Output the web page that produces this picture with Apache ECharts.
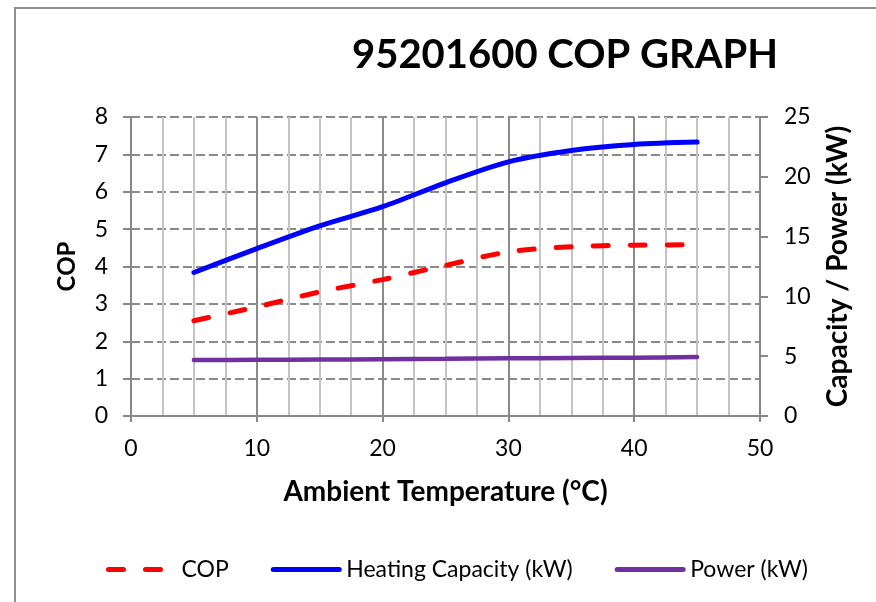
<!DOCTYPE html>
<html><head><meta charset="utf-8">
<script src="https://cdn.jsdelivr.net/npm/echarts@6/dist/echarts.min.js"></script>
<style>html,body{margin:0;padding:0;background:#fff}#c{width:876px;height:602px}</style>
</head><body><div id="c"></div>
<script>
const temps = [5, 10, 15, 20, 25, 30, 35, 40, 45];
const cop = [2.55, 2.92, 3.32, 3.65, 4.03, 4.39, 4.53, 4.57, 4.58];
const heatingCapacity = [12.0, 14.0, 15.9, 17.5, 19.5, 21.25, 22.2, 22.7, 22.9];
const power = [4.68, 4.7, 4.72, 4.75, 4.78, 4.82, 4.85, 4.88, 4.93];
const xTicks = [0, 10, 20, 30, 40, 50];
const copTicks = [0, 1, 2, 3, 4, 5, 6, 7, 8];
const kwTicks = [0, 5, 10, 15, 20, 25];

const F = 'Lato, "Open Sans", sans-serif';
const pair = (xs, ys) => xs.map((x, i) => [x, ys[i]]);
const chart = echarts.init(document.getElementById('c'));
chart.setOption({
  animation: false,
  textStyle: { fontFamily: F },
  title: { text: '95201600 COP GRAPH', left: 347, top: 30,
    textStyle: { fontFamily: F, fontSize: 40, fontWeight: 'bold', color: '#000' } },
  graphic: [{ type: 'rect', shape: { x: 15, y: 8, width: 1000, height: 800 },
    style: { fill: 'none', stroke: '#8f8f8f', lineWidth: 2 }, silent: true }],
  grid: { left: 131, right: 116, top: 117, bottom: 186 },
  legend: {
    left: 101, top: 553, itemWidth: 66, itemHeight: 10, itemGap: 42,
    itemStyle: { opacity: 0 },
    lineStyle: { width: 5, cap: 'round' },
    textStyle: { fontFamily: F, fontSize: 23, color: '#000', padding: [0, 0, 0, 2] },
    data: ['COP', 'Heating Capacity (kW)', 'Power (kW)']
  },
  xAxis: {
    type: 'value', min: xTicks[0], max: xTicks[xTicks.length - 1], interval: 10,
    name: 'Ambient Temperature (°C)', nameLocation: 'middle', nameGap: 62,
    nameTextStyle: { fontFamily: F, fontSize: 28, fontWeight: 'bold', color: '#000' },
    axisLine: { show: true, lineStyle: { color: '#888', width: 2 } },
    axisTick: { show: true, length: 6, lineStyle: { color: '#888', width: 2 } },
    axisLabel: { fontSize: 23, color: '#000', margin: 21, fontFamily: F },
    splitLine: { show: true, lineStyle: { color: '#8a8a8a', width: 2 } },
    minorSplitLine: { show: true, lineStyle: { color: '#c4c4c4', width: 2 } },
    minorTick: { show: false, splitNumber: 4 }
  },
  yAxis: [{
    type: 'value', min: copTicks[0], max: copTicks[copTicks.length - 1], interval: 1,
    name: 'COP', nameLocation: 'middle', nameGap: 52, nameRotate: 90,
    nameTextStyle: { fontFamily: F, fontSize: 24, fontWeight: 'bold', color: '#000' },
    axisLine: { show: true, lineStyle: { color: '#888', width: 2 } },
    axisTick: { show: true, length: 8, lineStyle: { color: '#888', width: 2 } },
    axisLabel: { fontSize: 23, color: '#000', margin: 23, fontFamily: F },
    splitLine: { show: true, lineStyle: { color: '#8a8a8a', width: 2, type: [9, 4] } }
  }, {
    type: 'value', min: kwTicks[0], max: kwTicks[kwTicks.length - 1], interval: 5,
    name: 'Capacity / Power (kW)', nameLocation: 'middle', nameGap: 64, nameRotate: 90,
    nameTextStyle: { fontFamily: F, fontSize: 28, fontWeight: 'bold', color: '#000' },
    axisLine: { show: true, lineStyle: { color: '#888', width: 2 } },
    axisTick: { show: true, length: 8, lineStyle: { color: '#888', width: 2 } },
    axisLabel: { fontSize: 23, color: '#000', margin: 24, fontFamily: F },
    splitLine: { show: false }
  }],
  series: [{
    name: 'COP', type: 'line', yAxisIndex: 0, data: pair(temps, cop), smooth: 0.3,
    symbol: 'none', color: '#ff0000',
    lineStyle: { color: '#ff0000', width: 5, type: [15, 22], cap: 'round' }
  }, {
    name: 'Heating Capacity (kW)', type: 'line', yAxisIndex: 1, data: pair(temps, heatingCapacity), smooth: 0.3,
    symbol: 'none', color: '#0000ff',
    lineStyle: { color: '#0000ff', width: 5, cap: 'round' }
  }, {
    name: 'Power (kW)', type: 'line', yAxisIndex: 1, data: pair(temps, power), smooth: 0.3,
    symbol: 'none', color: '#7030a0',
    lineStyle: { color: '#7030a0', width: 4.5, cap: 'round' }
  }]
});
</script></body></html>
